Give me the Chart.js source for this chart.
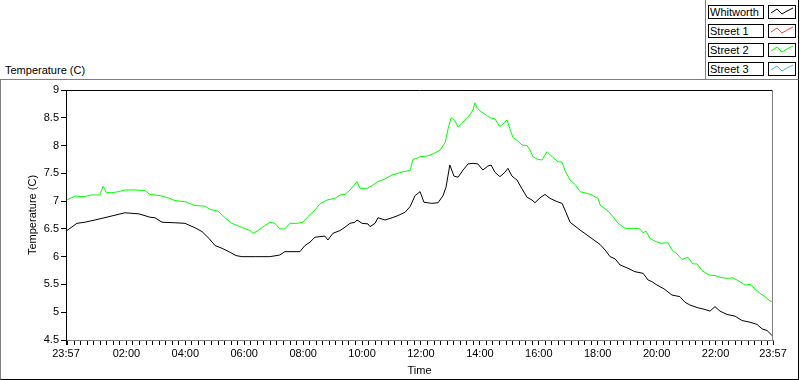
<!DOCTYPE html>
<html>
<head>
<meta charset="utf-8">
<script src="https://cdn.jsdelivr.net/npm/chart.js@4/dist/chart.umd.min.js"></script>
<style>
	body { margin: 0; background: #fff; font-family: "Liberation Sans", Arial, sans-serif; font-size: 11px; }
	#wrap { position: relative; width: 800px; height: 380px; overflow: hidden; }
	#graph_temp { position: absolute; left: 0; top: 0; }
	#panel { position: absolute; left: 0; top: 79px; width: 797px; height: 299px;
		border-top: 1px solid #808080; border-left: 1px solid #808080;
		border-right: 1px solid #000; border-bottom: 1px solid #000; }
	#legendPanel { position: absolute; left: 705px; top: 0; width: 92px; height: 79px;
		border-left: 1px solid #808080; border-right: 1px solid #000; }
	.lgName { position: absolute; left: 2px; width: 53px; height: 12px; border: 1px solid #000;
		background: #fff; line-height: 12px; padding-left: 1px; white-space: nowrap; }
	.lgSample { position: absolute; left: 62px; width: 26px; height: 12px; border: 1px solid #000; background: #fff; }
	#topTitle { position: absolute; left: 5px; top: 64px; }
</style>
</head>
<body>
<div id="wrap">
	<div id="panel"></div>
	<div id="legendPanel"></div>
	<div id="topTitle">Temperature (C)</div>
	<canvas id="graph_temp" width="800" height="380"></canvas>
</div>
<script>
// series names / colours (Street 1 and Street 3 have no data in the plot)
const seriesNames = ["Whitworth", "Street 1", "Street 2", "Street 3"];
const seriesColors = ["#000000", "#ff4040", "#00ff00", "#33bbff"];

// hours after 23:57 , temperature (C)
const hoursWhitworth = [0.03, 0.37, 0.64, 0.98, 1.46, 2.0, 2.48, 2.85, 3.02, 3.26, 3.7, 4.04, 4.38, 4.62, 4.85, 5.06, 5.3, 5.53, 5.77, 5.97,
	6.42, 6.92, 7.26, 7.43, 7.94, 8.11, 8.28, 8.45, 8.79, 8.89, 9.06, 9.3, 9.47, 9.64, 9.81, 9.88, 10.05, 10.25, 10.32, 10.49, 10.59, 10.83,
	11.07, 11.27, 11.51, 11.68, 11.85, 12.02, 12.15, 12.42, 12.63, 12.8, 12.9, 13.03, 13.17, 13.31, 13.48, 13.65, 13.82, 13.98, 14.15,
	14.32, 14.43, 14.56, 14.73, 14.9, 15.0, 15.14, 15.31, 15.48, 15.65, 15.82, 15.92, 16.09, 16.26, 16.43, 16.67, 16.84, 16.97, 17.11,
	17.45, 17.79, 18.13, 18.3, 18.47, 18.64, 18.81, 19.04, 19.31, 19.59, 19.76, 19.89, 20.06, 20.3, 20.57, 20.84, 21.01, 21.18, 21.45,
	21.69, 21.86, 22.03, 22.2, 22.44, 22.71, 22.95, 23.22, 23.46, 23.63, 23.8, 23.97];
const tempWhitworth = [6.47, 6.6, 6.62, 6.66, 6.72, 6.79, 6.77, 6.71, 6.7, 6.62, 6.61, 6.6, 6.52, 6.45, 6.33, 6.2, 6.15, 6.09, 6.02, 6.0,
	6.0, 6.0, 6.03, 6.09, 6.09, 6.2, 6.26, 6.35, 6.37, 6.3, 6.42, 6.47, 6.53, 6.6, 6.62, 6.66, 6.6, 6.59, 6.54, 6.6, 6.7, 6.66,
	6.7, 6.74, 6.8, 6.9, 7.1, 7.17, 6.98, 6.96, 6.97, 7.1, 7.25, 7.65, 7.45, 7.43, 7.56, 7.67, 7.68, 7.67, 7.56,
	7.63, 7.65, 7.52, 7.44, 7.52, 7.59, 7.45, 7.38, 7.22, 7.07, 7.02, 6.97, 7.06, 7.12, 7.05, 6.99, 6.96, 6.8, 6.62,
	6.48, 6.35, 6.22, 6.12, 6.0, 5.96, 5.85, 5.8, 5.73, 5.7, 5.58, 5.55, 5.49, 5.42, 5.31, 5.28, 5.18, 5.13, 5.08,
	5.05, 5.02, 5.1, 5.02, 4.96, 4.93, 4.85, 4.82, 4.78, 4.7, 4.67, 4.58];

const hoursStreet2 = [0.03, 0.14, 0.31, 0.64, 0.81, 1.15, 1.26, 1.36, 1.56, 1.77, 2.0, 2.34, 2.68, 2.85, 3.19, 3.46, 3.7, 4.04, 4.38, 4.72,
	4.89, 5.16, 5.4, 5.63, 5.91, 6.25, 6.35, 6.52, 6.75, 6.92, 7.09, 7.26, 7.43, 7.6, 7.84, 8.04, 8.21, 8.45, 8.62, 8.86, 9.13, 9.3,
	9.47, 9.64, 9.88, 9.98, 10.22, 10.39, 10.59, 10.83, 11.07, 11.27, 11.44, 11.68, 11.78, 11.91, 12.02, 12.25, 12.46, 12.7, 12.87,
	12.97, 13.07, 13.2, 13.31, 13.44, 13.54, 13.71, 13.82, 13.88, 13.98, 14.09, 14.26, 14.39, 14.56, 14.73, 14.9, 14.97, 15.07, 15.17,
	15.34, 15.48, 15.65, 15.75, 15.85, 16.02, 16.16, 16.33, 16.5, 16.7, 16.84, 16.94, 17.11, 17.28, 17.45, 17.69, 17.85, 18.06, 18.13,
	18.23, 18.4, 18.57, 18.74, 18.98, 19.31, 19.48, 19.59, 19.69, 19.82, 19.99, 20.2, 20.44, 20.57, 20.74, 20.91, 21.11, 21.28, 21.42,
	21.59, 21.83, 22.03, 22.2, 22.44, 22.64, 22.88, 23.05, 23.22, 23.39, 23.56, 23.73, 23.9, 24.0];
const tempStreet2 = [7.02, 7.05, 7.09, 7.08, 7.11, 7.11, 7.27, 7.16, 7.15, 7.17, 7.2, 7.2, 7.19, 7.12, 7.1, 7.06, 7.01, 6.99, 6.92, 6.91,
	6.85, 6.82, 6.7, 6.6, 6.54, 6.47, 6.42, 6.47, 6.56, 6.62, 6.6, 6.5, 6.5, 6.6, 6.6, 6.62, 6.72, 6.84, 6.95, 7.02, 7.05, 7.11,
	7.12, 7.2, 7.35, 7.23, 7.23, 7.28, 7.35, 7.4, 7.47, 7.5, 7.53, 7.55, 7.75, 7.77, 7.8, 7.81, 7.85, 7.92, 8.05,
	8.3, 8.5, 8.45, 8.33, 8.4, 8.46, 8.55, 8.65, 8.77, 8.66, 8.61, 8.55, 8.5, 8.48, 8.34, 8.42, 8.46, 8.3, 8.15,
	8.08, 8.01, 8.0, 7.92, 7.8, 7.75, 7.74, 7.89, 7.8, 7.71, 7.7, 7.55, 7.38, 7.3, 7.17, 7.14, 7.11, 7.05, 6.93,
	6.89, 6.82, 6.72, 6.6, 6.51, 6.51, 6.5, 6.43, 6.46, 6.33, 6.28, 6.24, 6.25, 6.12, 6.05, 5.95, 5.99, 5.87, 5.87,
	5.75, 5.67, 5.66, 5.63, 5.61, 5.62, 5.55, 5.49, 5.5, 5.42, 5.34, 5.28, 5.2, 5.2];

// x axis labels (hours after 23:57)
const xTickHours = [0, 2.05, 4.05, 6.05, 8.05, 10.05, 12.05, 14.05, 16.05, 18.05, 20.05, 22.05, 24];
const xTickLabels = ["23:57", "02:00", "04:00", "06:00", "08:00", "10:00", "12:00", "14:00", "16:00", "18:00", "20:00", "22:00", "23:57"];
const yTicks = [4.5, 5, 5.5, 6, 6.5, 7, 7.5, 8, 8.5, 9];

document.addEventListener("DOMContentLoaded", function() {
	buildLegend();
	drawGraph();
});

function buildLegend() {
	let legendPanel = document.getElementById("legendPanel");
	let html = "";
	seriesNames.forEach((name, i) => {
		let top = 5 + i * 19;
		html += "<div class=\"lgName\" style=\"top:" + top + "px\">" + name + "</div>";
		html += "<div class=\"lgSample\" style=\"top:" + top + "px\">"
			+ "<svg width=\"26\" height=\"12\"><polyline points=\"2,7 8,3 13,8 18,5 24,2\" fill=\"none\" stroke=\""
			+ seriesColors[i] + "\" stroke-width=\"1\"/></svg></div>";
	});
	legendPanel.innerHTML = html;
}

function toPoints(hours, temps) {
	return hours.map(function(h, i) {
		return { x: h, y: temps[i] };
	});
}

// minor ticks every 2h/9 from 00:00, plus the major ones
function xTickValues() {
	let vals = xTickHours.slice();
	for (let k = 0; 0.05 + k * 2 / 9 < 24; k++) {
		let v = 0.05 + k * 2 / 9;
		if (vals.every(t => Math.abs(t - v) > 0.02)) vals.push(v);
	}
	return vals.sort((a, b) => a - b);
}

const frameLines = {
	id: "frameLines",
	afterDraw(chart) {
		let a = chart.chartArea;
		let ctx = chart.ctx;
		ctx.save();
		ctx.lineWidth = 1;
		ctx.strokeStyle = "#000";
		ctx.beginPath();
		ctx.moveTo(a.left, a.top + 0.5);
		ctx.lineTo(a.right, a.top + 0.5);
		ctx.stroke();
		ctx.strokeStyle = "#808080";
		ctx.beginPath();
		ctx.moveTo(a.right - 0.5, a.top);
		ctx.lineTo(a.right - 0.5, a.bottom);
		ctx.stroke();
		ctx.restore();
	}
};

function drawGraph() {
	let font = { family: "'Liberation Sans', Arial, sans-serif", size: 11 };
	let tickVals = xTickValues();

	let datasets = seriesNames.map(function(name, i) {
		let data = [];
		if (name == "Whitworth") data = toPoints(hoursWhitworth, tempWhitworth);
		if (name == "Street 2") data = toPoints(hoursStreet2, tempStreet2);
		return {
			label: name,
			data: data,
			borderColor: seriesColors[i],
			borderWidth: 1,
			pointRadius: 0,
			tension: 0,
			fill: false
		};
	});
	// draw Whitworth on top
	datasets[0].order = 0;
	datasets[2].order = 1;

	let ctx = document.getElementById("graph_temp").getContext("2d");
	new Chart(ctx, {
		type: "line",
		data: { datasets: datasets },
		options: {
			responsive: false,
			animation: false,
			devicePixelRatio: 1,
			layout: { padding: { top: 90, right: 27, left: 0, bottom: 0 } },
			scales: {
				x: {
					type: "linear",
					min: 0,
					max: 24,
					afterBuildTicks: function(scale) {
						scale.ticks = tickVals.map(v => ({ value: v }));
					},
					afterFit: function(scale) { scale.height = 40; },
					ticks: {
						autoSkip: false,
						maxRotation: 0,
						padding: 2,
						color: "#000",
						font: font,
						callback: function(value) {
							let idx = xTickHours.findIndex(t => Math.abs(t - value) < 0.001);
							return idx >= 0 ? xTickLabels[idx] : "";
						}
					},
					grid: { drawOnChartArea: false, drawTicks: true, tickLength: 5, tickColor: "#000" },
					border: { color: "#808080" },
					title: { display: true, text: "Time", color: "#000", font: font, padding: { top: 0, bottom: 2 } }
				},
				y: {
					min: 4.5,
					max: 9,
					afterBuildTicks: function(scale) {
						scale.ticks = yTicks.map(v => ({ value: v }));
					},
					afterFit: function(scale) { scale.width = 66; },
					ticks: {
						color: "#000",
						font: font,
						padding: 2,
						callback: function(value) { return String(value); }
					},
					grid: { drawOnChartArea: false, drawTicks: true, tickLength: 5, tickColor: "#000" },
					border: { color: "#000" },
					title: { display: true, text: "Temperature (C)", color: "#000", font: font, padding: { top: 26, bottom: 0 } }
				}
			},
			plugins: {
				legend: { display: false },
				tooltip: { enabled: false }
			}
		},
		plugins: [frameLines]
	});
}
</script>
</body>
</html>
